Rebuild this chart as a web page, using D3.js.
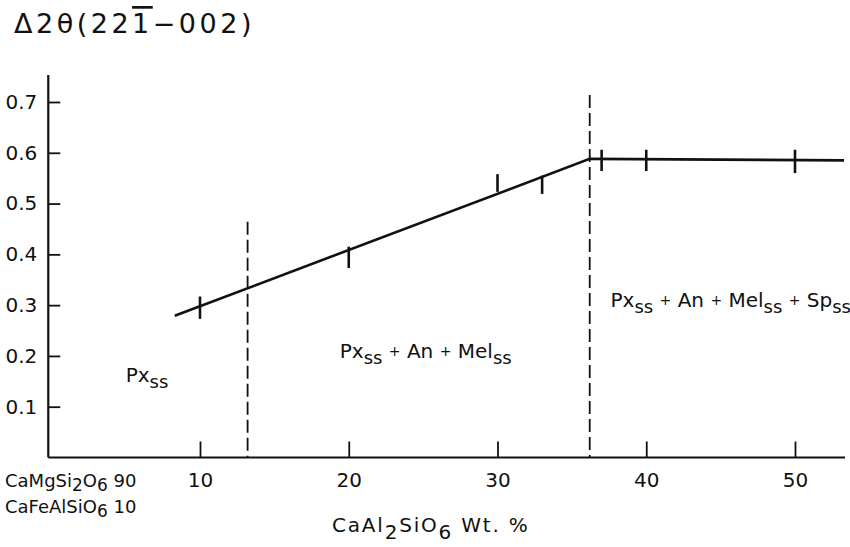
<!DOCTYPE html>
<html><head><meta charset="utf-8">
<script src="https://cdn.jsdelivr.net/npm/d3@7"></script>
<style>
body{margin:0;background:#fff}
svg text{font-family:"DejaVu Sans",sans-serif;fill:#111}
</style>
</head><body>
<svg id="c" width="850" height="547"></svg>
<script>
// ---- data ----
const yTicks = [0.1, 0.2, 0.3, 0.4, 0.5, 0.6, 0.7];
const xTicks = [10, 20, 30, 40, 50];
const trendX = [8.3, 36.2, 53.3];
const trendY = [0.279, 0.588, 0.585];
const barX  = [10, 20, 30, 33, 37, 40, 50];
const barLo = [0.273, 0.373, 0.523, 0.519, 0.564, 0.564, 0.560];
const barHi = [0.317, 0.415, 0.558, 0.555, 0.606, 0.606, 0.606];
const boundaryX   = [13.2, 36.2];
const boundaryTop = [0.464, 0.714];
// "{..}" marks a subscript
const regionNames = ["Px{ss}", "Px{ss} + An + Mel{ss}", "Px{ss} + An + Mel{ss} + Sp{ss}"];
const regionX = [5.0, 19.4, 37.6];
const regionY = [0.149, 0.196, 0.297];
const compLabels = ["CaMgSi{2}O{6} 90", "CaFeAlSiO{6} 10"];
const xTitle = "CaAl{2}SiO{6} Wt. %";

// ---- layout ----
const svg = d3.select("#c");
const x = d3.scaleLinear().domain([10, 50]).range([200, 795]);
const y = d3.scaleLinear().domain([0.1, 0.7]).range([406.7, 102]);
const x0 = x(-0.2), xEnd = 845, yBase = y(0), yTop = 75;

svg.append("line").attr("x1", x0).attr("x2", x0).attr("y1", yTop).attr("y2", yBase)
  .attr("stroke", "#111").attr("stroke-width", 2.2);
svg.append("line").attr("x1", x0).attr("x2", xEnd).attr("y1", yBase).attr("y2", yBase)
  .attr("stroke", "#111").attr("stroke-width", 2.2);

const ya = svg.append("g").attr("transform", `translate(${x0},0)`)
  .call(d3.axisLeft(y).tickValues(yTicks).tickSizeInner(-12).tickSizeOuter(0)
        .tickPadding(11).tickFormat(d3.format(".1f")));
ya.select(".domain").remove();
ya.selectAll(".tick line").attr("stroke", "#111").attr("stroke-width", 1.8);
ya.selectAll(".tick text").attr("font-size", 20).attr("font-family", "DejaVu Sans").attr("fill", "#111");

const xa = svg.append("g").attr("transform", `translate(0,${yBase})`)
  .call(d3.axisBottom(x).tickValues(xTicks).tickSizeInner(-16).tickSizeOuter(0)
        .tickPadding(15).tickFormat(d3.format("d")));
xa.select(".domain").remove();
xa.selectAll(".tick line").attr("stroke", "#111").attr("stroke-width", 1.8);
xa.selectAll(".tick text").attr("font-size", 20).attr("font-family", "DejaVu Sans").attr("fill", "#111");

boundaryX.forEach((b, i) => {
  svg.append("line").attr("x1", x(b)).attr("x2", x(b)).attr("y1", y(boundaryTop[i])).attr("y2", yBase)
    .attr("stroke", "#111").attr("stroke-width", 1.8).attr("stroke-dasharray", "13,5");
});

const line = d3.line().x(d => x(d[0])).y(d => y(d[1]));
svg.append("path").datum(trendX.map((v, i) => [v, trendY[i]]))
  .attr("d", line).attr("fill", "none").attr("stroke", "#111").attr("stroke-width", 2.6);

svg.selectAll(".bar").data(barX).enter().append("line")
  .attr("x1", d => x(d)).attr("x2", d => x(d))
  .attr("y1", (d, i) => y(barLo[i])).attr("y2", (d, i) => y(barHi[i]))
  .attr("stroke", "#111").attr("stroke-width", 2.6);

// rich text: "{..}" subscript, "+" small plus
function rich(t, str, fs, subFs, subDy, plusFs) {
  const segs = [];
  str.split(/(\{[^}]*\}|\+)/).filter(p => p.length).forEach(p => {
    if (p[0] === "{") segs.push({s: p.slice(1, -1), size: subFs, off: subDy});
    else if (p === "+" && plusFs) segs.push({s: "+", size: plusFs, off: -2});
    else segs.push({s: p, size: fs, off: 0});
  });
  let cur = 0;
  segs.forEach(g => {
    t.append("tspan").attr("font-size", g.size).attr("dy", g.off - cur).text(g.s);
    cur = g.off;
  });
  return t;
}

regionNames.forEach((n, i) => {
  const t = svg.append("text").attr("x", x(regionX[i])).attr("y", y(regionY[i]))
    .attr("font-size", 20).style("white-space", "pre");
  rich(t, n, 20, 18, 6, 14);
});

// title
const title = svg.append("text").attr("x", 14).attr("y", 33).attr("font-size", 27)
  .attr("letter-spacing", 3.5);
title.append("tspan").text("\u03942\u03b8(22");
title.append("tspan").style("text-decoration", "overline").text("1");
title.append("tspan").text("\u2212002)");

compLabels.forEach((c, i) => {
  const t = svg.append("text").attr("x", 5).attr("y", 487 + i * 26).attr("font-size", 18)
    .style("white-space", "pre");
  rich(t, c, 18, 17, 4, 0);
});
const xl = svg.append("text").attr("x", 332).attr("y", 532).attr("font-size", 20)
  .attr("letter-spacing", 1.8).style("white-space", "pre");
rich(xl, xTitle, 20, 20, 7, 0);
</script>
</body></html>
